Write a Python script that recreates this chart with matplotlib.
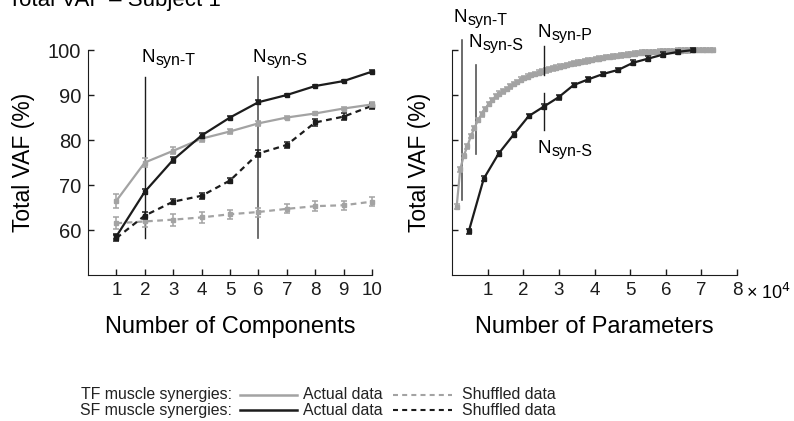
import matplotlib
matplotlib.use("Agg")
import matplotlib.pyplot as plt
from matplotlib.lines import Line2D

plt.rcParams['font.family'] = ['Liberation Sans', 'DejaVu Sans']

GRAY = '#a3a3a3'
BLACK = '#1c1c1c'

# left panel: VAF vs number of components
components = [1, 2, 3, 4, 5, 6, 7, 8, 9, 10]
tf_actual = [66.5, 75.0, 77.6, 80.3, 81.9, 83.7, 85.0, 85.9, 87.0, 87.9]
tf_actual_err = [1.5, 1.0, 0.8, 0.7, 0.5, 0.5, 0.4, 0.4, 0.4, 0.5]
sf_actual = [58.6, 68.5, 75.6, 81.0, 85.0, 88.4, 90.0, 92.0, 93.1, 95.2]
sf_actual_err = [0.6, 0.6, 0.6, 0.5, 0.4, 0.4, 0.3, 0.3, 0.3, 0.3]
tf_shuffled = [61.5, 61.9, 62.3, 62.8, 63.5, 64.0, 64.7, 65.3, 65.5, 66.3]
tf_shuffled_err = [1.3, 1.2, 1.3, 1.2, 1.0, 1.0, 1.0, 1.1, 1.0, 1.0]
sf_shuffled = [58.2, 63.2, 66.3, 67.6, 71.0, 77.0, 78.9, 83.9, 85.2, 87.6]
sf_shuffled_err = [0.7, 0.7, 0.6, 0.6, 0.6, 0.8, 0.7, 0.8, 0.7, 0.7]

# right panel: VAF vs number of parameters (x 10^4)
tf_params = [0.13, 0.23, 0.33, 0.43, 0.53, 0.63, 0.73, 0.83, 0.93, 1.03,
             1.13, 1.23, 1.33, 1.43, 1.53, 1.63, 1.73, 1.83, 1.93, 2.03,
             2.13, 2.23, 2.33, 2.43, 2.53, 2.63, 2.73, 2.83, 2.93, 3.03,
             3.13, 3.23, 3.33, 3.43, 3.53, 3.63, 3.73, 3.83, 3.93, 4.03,
             4.13, 4.23, 4.33, 4.43, 4.53, 4.63, 4.73, 4.83, 4.93, 5.03,
             5.13, 5.23, 5.33, 5.43, 5.53, 5.63, 5.73, 5.83, 5.93, 6.03,
             6.13, 6.23, 6.33, 6.43, 6.53, 6.63, 6.73, 6.83, 6.93, 7.03,
             7.13, 7.23, 7.33]
tf_vaf = [65.2, 73.5, 76.5, 78.6, 80.9, 82.7, 84.4, 85.7, 86.9, 88.0,
          88.9, 89.7, 90.3, 90.8, 91.3, 91.9, 92.4, 92.9, 93.4, 93.8,
          94.1, 94.4, 94.7, 95.0, 95.2, 95.45, 95.7, 95.9, 96.1, 96.3,
          96.5, 96.7, 96.9, 97.05, 97.2, 97.35, 97.5, 97.65, 97.8, 97.95,
          98.1, 98.25, 98.4, 98.5, 98.6, 98.7, 98.8, 98.9, 99.0, 99.1,
          99.2, 99.3, 99.4, 99.45, 99.5, 99.55, 99.6, 99.65, 99.7, 99.75,
          99.8, 99.83, 99.86, 99.89, 99.92, 99.94, 99.96, 99.97, 99.98, 99.99,
          100.0, 100.0, 100.0]
sf_params = [0.47, 0.89, 1.31, 1.73, 2.15, 2.57, 2.99, 3.41, 3.83, 4.25,
             4.67, 5.09, 5.51, 5.93, 6.35, 6.77]
sf_vaf = [59.7, 71.4, 77.0, 81.2, 85.3, 87.4, 89.5, 92.2, 93.5, 94.7,
          95.6, 97.2, 98.1, 99.0, 99.6, 100.0]

fig = plt.figure(figsize=(7.94, 4.21), dpi=100)
ax1 = fig.add_axes([0.1108, 0.3468, 0.3577, 0.5344])
ax2 = fig.add_axes([0.5693, 0.3468, 0.359, 0.5344])

dash = (0, (2.6, 2.0))


def curve(ax, x, y, err, color, ls, z):
    ax.errorbar(x, y, yerr=err, color=color, ecolor=color, lw=1.6, ls=ls,
                marker='s', ms=2.5, capsize=2.2, elinewidth=1.1, capthick=1.1,
                clip_on=False, zorder=z)


curve(ax1, components, tf_shuffled, tf_shuffled_err, GRAY, dash, 2)
curve(ax1, components, sf_shuffled, sf_shuffled_err, BLACK, dash, 3)
curve(ax1, components, tf_actual, tf_actual_err, GRAY, '-', 4)
curve(ax1, components, sf_actual, sf_actual_err, BLACK, '-', 5)

curve(ax2, tf_params, tf_vaf, 0.5, GRAY, '-', 4)
curve(ax2, sf_params, sf_vaf, 0.5, BLACK, '-', 5)


def syn_label(ax, x, y, sub):
    n = ax.text(x, y, 'N', fontsize=13.5, va='baseline', ha='left', clip_on=False)
    ax.annotate(sub, xy=(1, 0), xycoords=n, xytext=(0.3, 0.8),
                textcoords='offset points', fontsize=11.5, va='baseline',
                ha='left', annotation_clip=False)


# left markers
ax1.plot([2, 2], [58.2, 94.0], color=BLACK, lw=1.0, zorder=1, clip_on=False)
ax1.plot([6, 6], [58.2, 94.0], color='#555555', lw=1.2, zorder=1, clip_on=False)
syn_label(ax1, 1.88, 97.3, 'syn-T')
syn_label(ax1, 5.81, 97.3, 'syn-S')

# right markers
ax2.plot([0.27, 0.27], [66.7, 102.2], color='#444444', lw=1.1, zorder=1, clip_on=False)
ax2.plot([0.66, 0.66], [76.9, 96.7], color='#555555', lw=1.2, zorder=1, clip_on=False)
ax2.plot([2.58, 2.58], [94.4, 100.9], color=BLACK, lw=1.0, zorder=6, clip_on=False)
ax2.plot([2.58, 2.58], [82.2, 90.4], color=BLACK, lw=1.0, zorder=6, clip_on=False)
syn_label(ax2, 0.05, 106.2, 'syn-T')
syn_label(ax2, 0.47, 100.6, 'syn-S')
syn_label(ax2, 2.40, 102.9, 'syn-P')
syn_label(ax2, 2.40, 77.1, 'syn-S')

for ax in (ax1, ax2):
    ax.spines['top'].set_visible(False)
    ax.spines['right'].set_visible(False)
    ax.spines['left'].set_color(BLACK)
    ax.spines['bottom'].set_color(BLACK)
    ax.set_ylim(50, 100)
    ax.set_yticks([60, 70, 80, 90, 100])
    ax.tick_params(direction='in', length=4, width=1, colors=BLACK, pad=4)
    ax.tick_params(axis='y', labelsize=14.5, pad=5)
    ax.tick_params(axis='x', labelsize=13.5, pad=5)

ax1.set_xlim(0, 10)
ax1.set_xticks(components)
ax1.set_ylabel('Total VAF (%)', fontsize=16.5, labelpad=9)
ax1.set_xlabel('Number of Components', fontsize=17, labelpad=12)

ax2.set_xlim(0, 8)
ax2.set_xticks([1, 2, 3, 4, 5, 6, 7, 8])
ax2.set_yticklabels([])
ax2.set_ylabel('Total VAF (%)', fontsize=16.5, labelpad=10)
ax2.set_xlabel('Number of Parameters', fontsize=17, labelpad=12)
ax2.text(1.03, -0.033, '\u00d7 10$^{4}$', transform=ax2.transAxes, fontsize=13,
         ha='left', va='top', math_fontfamily='dejavusans')

fig.text(0.010, 0.986, 'Total VAF \u2013 Subject 1', fontsize=16, ha='left', va='baseline')

# legend block
rows = [(0.0618, 'TF muscle synergies:', GRAY), (0.0261, 'SF muscle synergies:', BLACK)]
for y, label, color in rows:
    fig.text(0.2922, y, label, fontsize=11.4, ha='right', va='center', color='#222222')
    fig.add_artist(Line2D([0.3023, 0.374], [y, y], color=color, lw=1.8))
    fig.text(0.3816, y, 'Actual data', fontsize=11.4, ha='left', va='center', color='#222222')
    fig.add_artist(Line2D([0.495, 0.569], [y, y], color=color, lw=1.5, ls=(0, (2.4, 2.0))))
    fig.text(0.582, y, 'Shuffled data', fontsize=11.4, ha='left', va='center', color='#222222')

fig.savefig('out.png', dpi=100)
